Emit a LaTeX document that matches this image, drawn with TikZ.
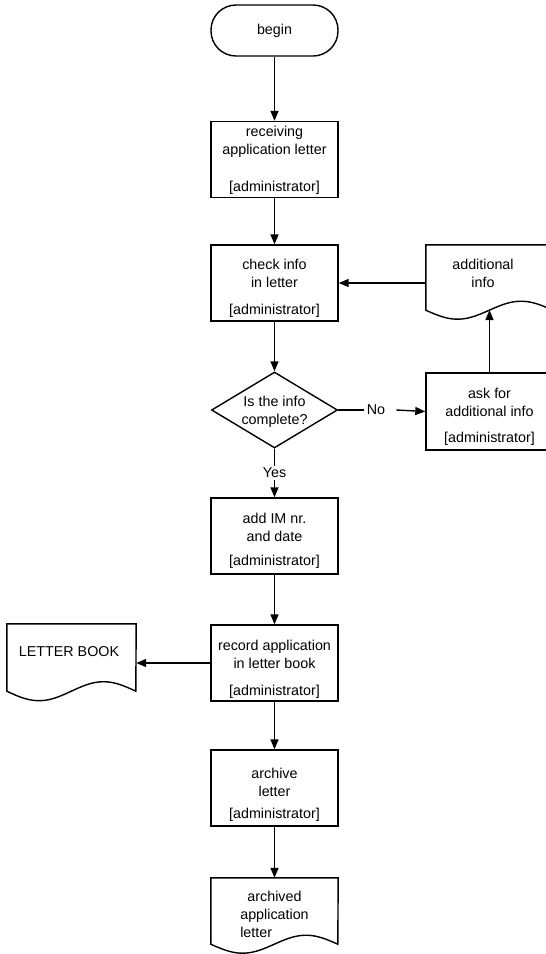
\documentclass[tikz,border=0pt]{standalone}
\usepackage{fontspec}
\setmainfont{Liberation Sans}
\usetikzlibrary{arrows.meta,shapes.geometric}
\begin{document}
\begin{tikzpicture}[x=1pt,y=-1pt,
  every node/.style={font=\fontsize{14.3}{18}\selectfont},
  ln/.style={line width=1.4pt},
  arr/.style={ln,-{Triangle[length=10pt,width=8pt]}},
  term/.style={draw,ln,rounded corners=25pt,minimum width=127pt,minimum height=51pt,inner sep=0pt},
  proc/.style={draw,ln,minimum width=127pt,minimum height=76pt,inner sep=0pt},
  decision/.style={draw,ln,diamond,minimum width=126pt,minimum height=76pt,inner sep=0pt},
  docarea/.style={minimum width=127pt,inner sep=0pt},
  txt/.style={inner sep=0pt,align=center},
  cond/.style={inner sep=2pt}
]
\useasboundingbox (0,0) rectangle (546,954);

% begin
\node[term] (begin) at (274.5,30.5) {begin};

% receiving
\node[proc] (recv) at (274.5,159.5) {};
\node[txt] (recvt) at (274.5,141.5) {receiving\\application letter};
\node[txt] (recvr) at (274.5,188) {[administrator]};

% check info
\node[proc] (check) at (274.5,283) {};
\node[txt] (checkt) at (274.5,273) {check info\\in letter};
\node[txt] (checkr) at (274.5,311) {[administrator]};

% decision
\node[decision] (dia) at (274.5,410) {};
\node[txt] (diat) at (274.5,412) {Is the info\\complete?};
\node[cond,inner sep=0pt] (no) at (376,410) {No};
\node[cond] (yes) at (274.5,473) {Yes};

% ask for additional info
\node[proc,minimum height=77pt] (ask) at (489.5,411.5) {};
\node[txt] (askt) at (489.5,402) {ask for\\additional info};
\node[txt] (askr) at (489.5,439) {[administrator]};

% additional info document
\node[docarea,minimum height=65pt] (addinfo) at (489.5,277.5) {};
\draw[ln] (addinfo.north west) -- (addinfo.south west)
  sin ++(31.75,9) cos ++(31.75,-9) sin ++(31.75,-9) cos ++(31.75,9)
  -- (addinfo.north east) -- cycle;
\node[txt] (addinfot) at (483,273) {additional\\info};
\coordinate (addwave) at (489.5,310);

% add IM nr
\node[proc] (addim) at (274.5,536) {};
\node[txt] (addimt) at (274.5,527) {add IM nr.\\and date};
\node[txt] (addimr) at (274.5,562) {[administrator]};

% record application
\node[proc] (record) at (274.5,663) {};
\node[txt] (recordt) at (274.5,654) {record application\\in letter book};
\node[txt] (recordr) at (274.5,692) {[administrator]};

% letter book document
\node[docarea,minimum width=129pt,minimum height=67pt] (lb) at (71.5,657.5) {};
\draw[ln] (lb.north west) -- (lb.south west)
  sin ++(32.25,9.5) cos ++(32.25,-9.5) sin ++(32.25,-9.5) cos ++(32.25,9.5)
  -- (lb.north east) -- cycle;
\node[txt] (lbt) at (69,652) {LETTER BOOK};

% archive letter
\node[proc] (archive) at (274.5,788) {};
\node[txt] (archivet) at (274.5,782) {archive\\letter};
\node[txt] (archiver) at (274.5,815) {[administrator]};

% archived document
\node[docarea,minimum height=66pt] (archd) at (274.5,911) {};
\draw[ln] (archd.north west) -- (archd.south west)
  sin ++(31.75,9) cos ++(31.75,-9) sin ++(31.75,-9) cos ++(31.75,9)
  -- (archd.north east) -- cycle;
\node[txt] (archdt) at (274.5,916) {archived\\application\\\makebox[0pt][l]{letter}\phantom{application}};

% connectors
\draw[arr] (begin.south) -- (recv.north);
\draw[arr] (recv.south) -- (check.north);
\draw[arr] (check.south) -- (dia.north);
\draw[ln] (dia.east) -- ([xshift=-3pt]no.west);
\draw[arr] ([xshift=11pt]no.east) -- (ask.west);
\draw[arr] (ask.north) -- (addwave);
\draw[arr] (check.east -| addinfo.west) -- (check.east);
\draw[ln] (dia.south) -- (yes.north);
\draw[arr] (yes.south) -- (addim.north);
\draw[arr] (addim.south) -- (record.north);
\draw[arr] (record.west) -- (record.west -| lb.east);
\draw[arr] (record.south) -- (archive.north);
\draw[arr] (archive.south) -- (archd.north);
\end{tikzpicture}
\end{document}
